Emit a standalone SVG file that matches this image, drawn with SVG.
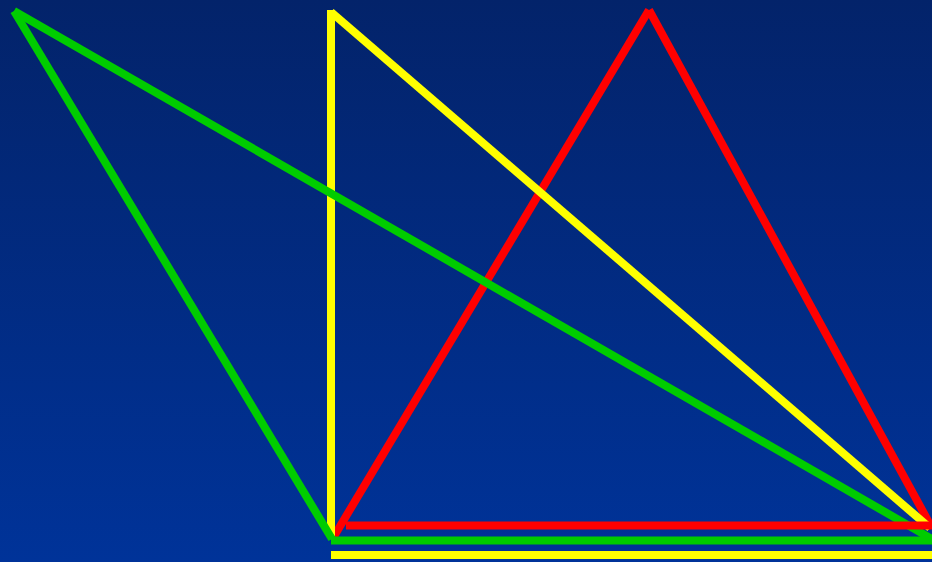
<svg xmlns="http://www.w3.org/2000/svg" width="932" height="562" viewBox="0 0 932 562">
<defs>
<linearGradient id="bg" x1="0" y1="0" x2="0" y2="1">
<stop offset="0" stop-color="#03236a"/>
<stop offset="1" stop-color="#003399"/>
</linearGradient>
<style>
.l{fill:none;stroke-width:8;stroke-linecap:butt}
.g{stroke:#00cc00}.y{stroke:#ffff00}.r{stroke:#ff0000}
</style>
</defs>
<rect width="932" height="562" fill="url(#bg)"/>
<g id="connectors">
<g id="red">
<line class="l r" x1="649" y1="10" x2="333" y2="538"/>
<line class="l r" x1="649" y1="10" x2="932" y2="528"/>
</g>
<g id="yellow">
<line class="l y" x1="331" y1="10" x2="331" y2="538"/>
<line class="l y" x1="331" y1="12" x2="930" y2="528"/>
</g>
<g id="green">
<line class="l g" x1="14" y1="11" x2="332" y2="539"/>
<line class="l g" x1="14" y1="11" x2="932" y2="539"/>
</g>
<g id="bases">
<line class="l r" x1="346" y1="525.5" x2="932" y2="525.5"/>
<line class="l g" x1="331" y1="540.5" x2="932" y2="540.5"/>
<line class="l y" x1="331" y1="555" x2="932" y2="555"/>
</g>
</g>
</svg>
